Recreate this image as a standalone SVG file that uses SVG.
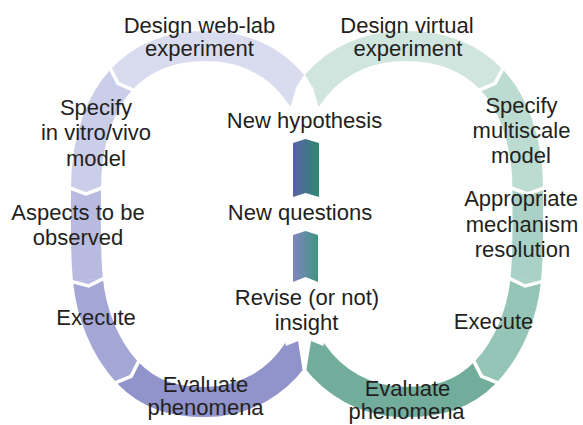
<svg xmlns="http://www.w3.org/2000/svg" width="583" height="425" viewBox="0 0 583 425">
<defs>
<style>
.t{font-family:"Liberation Sans",Arial,Helvetica,sans-serif;font-size:22px;fill:#231f20;text-anchor:middle}
.b{fill:none;stroke-width:30;stroke-linecap:butt}
.g{fill:none;stroke:#fff;stroke-width:3.5;stroke-linejoin:miter}
</style>
<clipPath id="clipL" clipPathUnits="userSpaceOnUse">
<path d="M0,0 H304 V75 L296,88 L292,102 L286,120 L270,200 L282,330 L286,346 L298,341 L302,366 L304,380 V425 H0 Z"/>
</clipPath>
<linearGradient id="a1" x1="0" x2="1" y1="0" y2="0"><stop offset="0" stop-color="#5a5fa9"/><stop offset="1" stop-color="#2c8a6f"/></linearGradient>
<linearGradient id="a2" x1="0" x2="1" y1="0" y2="0"><stop offset="0" stop-color="#8084c3"/><stop offset="1" stop-color="#3f9580"/></linearGradient>
</defs>
<rect width="583" height="425" fill="#fff"/>
<g id="connectors">
<g id="loop-left" clip-path="url(#clipL)">
<path class="b" stroke="#9094ca" d="M127,372 C150,396 175,402 205,402 C245,402 277,382 296,354 L308,336"/>
<path class="b" stroke="#a4a7d5" d="M88,280 C91,312 104,347 127,372"/>
<polygon fill="#a4a7d5" points="138.1,361.8 131.1,376.4 115.9,382.2"/>
<polyline class="g" points="138.8,361.1 131.1,376.4 115.2,382.9"/>
<path class="b" stroke="#b8bbdf" d="M86,188 C86,222 85,252 88,280"/>
<polygon fill="#b8bbdf" points="102.9,278.5 88.6,286 73.1,281.5"/>
<polyline class="g" points="103.9,278.4 88.6,286 72.1,281.6"/>
<path class="b" stroke="#cbcee8" d="M122,79 C101,101 86,140 86,188"/>
<polygon fill="#cbcee8" points="101,188 86,194 71,188"/>
<polyline class="g" points="102,188 86,194 70,188"/>
<path class="b" stroke="#d9dbef" d="M305,101 L293,85 C270,58 240,46 205,46 C170,46 142,58 122,79"/>
<polygon fill="#d9dbef" points="133,89.4 117.9,83.4 111,68.7"/>
<polyline class="g" points="134.4,90.7 117.9,83.4 109.6,67.3"/>
</g>
<g id="loop-right" transform="matrix(-1.022,0,0,1,615.6,0)">
<g clip-path="url(#clipL)">
<path class="b" stroke="#72ac9b" d="M127,372 C150,396 175,402 205,402 C245,402 277,382 296,354 L308,336"/>
<path class="b" stroke="#95c5b7" d="M88,280 C91,312 104,347 127,372"/>
<polygon fill="#95c5b7" points="138.1,361.8 131.1,376.4 115.9,382.2"/>
<polyline class="g" points="138.8,361.1 131.1,376.4 115.2,382.9"/>
<path class="b" stroke="#a9d1c5" d="M86,188 C86,222 85,252 88,280"/>
<polygon fill="#a9d1c5" points="102.9,278.5 88.6,286 73.1,281.5"/>
<polyline class="g" points="103.9,278.4 88.6,286 72.1,281.6"/>
<path class="b" stroke="#bcdcd2" d="M122,79 C101,101 86,140 86,188"/>
<polygon fill="#bcdcd2" points="101,188 86,194 71,188"/>
<polyline class="g" points="102,188 86,194 70,188"/>
<path class="b" stroke="#cfe5de" d="M305,101 L293,85 C270,58 240,46 205,46 C170,46 142,58 122,79"/>
<polygon fill="#cfe5de" points="133,89.4 117.9,83.4 111,68.7"/>
<polyline class="g" points="134.4,90.7 117.9,83.4 109.6,67.3"/>
</g>
</g>
<polygon id="arrow-up-1" fill="url(#a1)" points="293,143 305.5,139 319,143 319,197 305.5,193 293,197"/>
<polygon id="arrow-up-2" fill="url(#a2)" points="293,235 305.5,231 318,235 318,282 305.5,277 293,282"/>
</g>
<g id="design-weblab"><text class="t" x="199.5" y="32.5">Design web-lab</text><text class="t" x="199.5" y="55.5">experiment</text></g>
<g id="specify-vitro"><text class="t" x="96" y="115">Specify</text><text class="t" x="96" y="140">in vitro/vivo</text><text class="t" x="96" y="165.5">model</text></g>
<g id="aspects"><text class="t" x="78" y="220">Aspects to be</text><text class="t" x="78" y="245">observed</text></g>
<g id="execute-left"><text class="t" x="96" y="325">Execute</text></g>
<g id="evaluate-left"><text class="t" x="205.5" y="392">Evaluate</text><text class="t" x="205.5" y="415">phenomena</text></g>
<g id="new-hypothesis"><text class="t" x="304.5" y="128">New hypothesis</text></g>
<g id="new-questions"><text class="t" x="300" y="220">New questions</text></g>
<g id="revise-insight"><text class="t" x="307" y="305">Revise (or not)</text><text class="t" x="306.5" y="330">insight</text></g>
<g id="design-virtual"><text class="t" x="407" y="32.5">Design virtual</text><text class="t" x="408" y="55.5">experiment</text></g>
<g id="specify-multiscale"><text class="t" x="521.5" y="113">Specify</text><text class="t" x="521.5" y="138">multiscale</text><text class="t" x="521" y="163">model</text></g>
<g id="appropriate"><text class="t" x="521" y="206">Appropriate</text><text class="t" x="522" y="231.5">mechanism</text><text class="t" x="522.5" y="256.5">resolution</text></g>
<g id="execute-right"><text class="t" x="493.5" y="329">Execute</text></g>
<g id="evaluate-right"><text class="t" x="407.5" y="396">Evaluate</text><text class="t" x="406.5" y="419">phenomena</text></g>
</svg>
